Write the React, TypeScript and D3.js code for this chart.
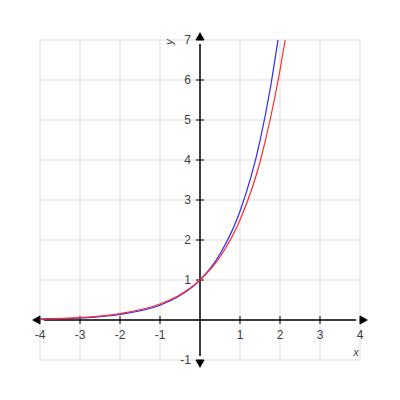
import React from 'react'
import * as d3 from 'd3'

const xTicks = [-4, -3, -2, -1, 1, 2, 3, 4]
const yTicks = [-1, 1, 2, 3, 4, 5, 6, 7]

// points
const blueX = [-4, -3, -2, -1, -0.5, 0, 0.5, 1, 1.5, 1.75, 1.95]
const blueY = [0.02, 0.05, 0.14, 0.37, 0.61, 1, 1.65, 2.72, 4.48, 5.75, 7.0]
const redX = [-4, -3, -2, -1, -0.5, 0, 0.5, 1, 1.5, 2, 2.13]
const redY = [0.03, 0.06, 0.16, 0.4, 0.63, 1, 1.58, 2.5, 3.95, 6.25, 7.0]

const size = 400
const x = d3.scaleLinear().domain([-4, 4]).range([40, 360])
const y = d3.scaleLinear().domain([-1, 7]).range([360, 40])

const line = d3.line<[number, number]>()
  .x(d => x(d[0]))
  .y(d => y(d[1]))
  .curve(d3.curveMonotoneX)

const font = '"Liberation Sans", Arial, sans-serif'

export default function App() {
  const blue = blueX.map((v, i) => [v, blueY[i]] as [number, number])
  const red = redX.map((v, i) => [v, redY[i]] as [number, number])
  const x0 = x(0), y0 = y(0)
  const grid = d3.range(-4, 5)
  const gridY = d3.range(-1, 8)
  return (
    <div style={{ position: 'absolute', left: 0, top: 0 }}>
      <svg width={size} height={size} style={{ display: 'block' }}>
        <rect width={size} height={size} fill="#fff" />
        <defs>
          <clipPath id="plot">
            <rect x={x(-4)} y={y(7)} width={x(4) - x(-4)} height={y(-1) - y(7)} />
          </clipPath>
        </defs>
        <g stroke="#dddddd" strokeWidth={1}>
          {grid.map(v => (
            <line key={'gx' + v} x1={x(v)} x2={x(v)} y1={y(-1)} y2={y(7)} />
          ))}
          {gridY.map(v => (
            <line key={'gy' + v} x1={x(-4)} x2={x(4)} y1={y(v)} y2={y(v)} />
          ))}
        </g>
        <g stroke="#000" strokeWidth={1.5}>
          <line x1={x(-4) + 4} x2={x(4) - 4} y1={y0} y2={y0} />
          <line x1={x0} x2={x0} y1={y(7) + 4} y2={y(-1) - 4} />
          {xTicks.map(v => (
            <line key={'tx' + v} x1={x(v)} x2={x(v)} y1={y0 - 4} y2={y0 + 4} strokeWidth={1} />
          ))}
          {yTicks.map(v => (
            <line key={'ty' + v} x1={x0 - 4} x2={x0 + 4} y1={y(v)} y2={y(v)} strokeWidth={1} />
          ))}
        </g>
        <g fill="#000">
          <path d={`M${x(4) + 8},${y0} L${x(4)},${y0 - 4.5} L${x(4)},${y0 + 4.5} Z`} />
          <path d={`M${x(-4) - 8},${y0} L${x(-4)},${y0 - 4.5} L${x(-4)},${y0 + 4.5} Z`} />
          <path d={`M${x0},${y(7) - 8} L${x0 - 4.5},${y(7)} L${x0 + 4.5},${y(7)} Z`} />
          <path d={`M${x0},${y(-1) + 8} L${x0 - 4.5},${y(-1)} L${x0 + 4.5},${y(-1)} Z`} />
        </g>
        <g fontFamily={font} fontSize={12} fill="#3a3f4a">
          {xTicks.map(v => (
            <text key={'lx' + v} x={x(v)} y={y0 + 19} textAnchor="middle">{v}</text>
          ))}
          {yTicks.map(v => (
            <text key={'ly' + v} x={x0 - 9} y={y(v) + 4} textAnchor="end">{v}</text>
          ))}
          <text x={x(4) - 4} y={y(-1) - 4} fontSize={11} fontStyle="italic" textAnchor="middle">x</text>
          <text x={x0 - 27} y={y(7) + 2} fontSize={11} fontStyle="italic" textAnchor="middle"
            transform={`rotate(-90 ${x0 - 27} ${y(7) + 2})`}>y</text>
        </g>
        <g clipPath="url(#plot)" fill="none" strokeWidth={1.2}>
          <path d={line(blue) ?? ''} stroke="#2b2bff" />
          <path d={line(red) ?? ''} stroke="#ff2b2b" />
        </g>
      </svg>
    </div>
  )
}
